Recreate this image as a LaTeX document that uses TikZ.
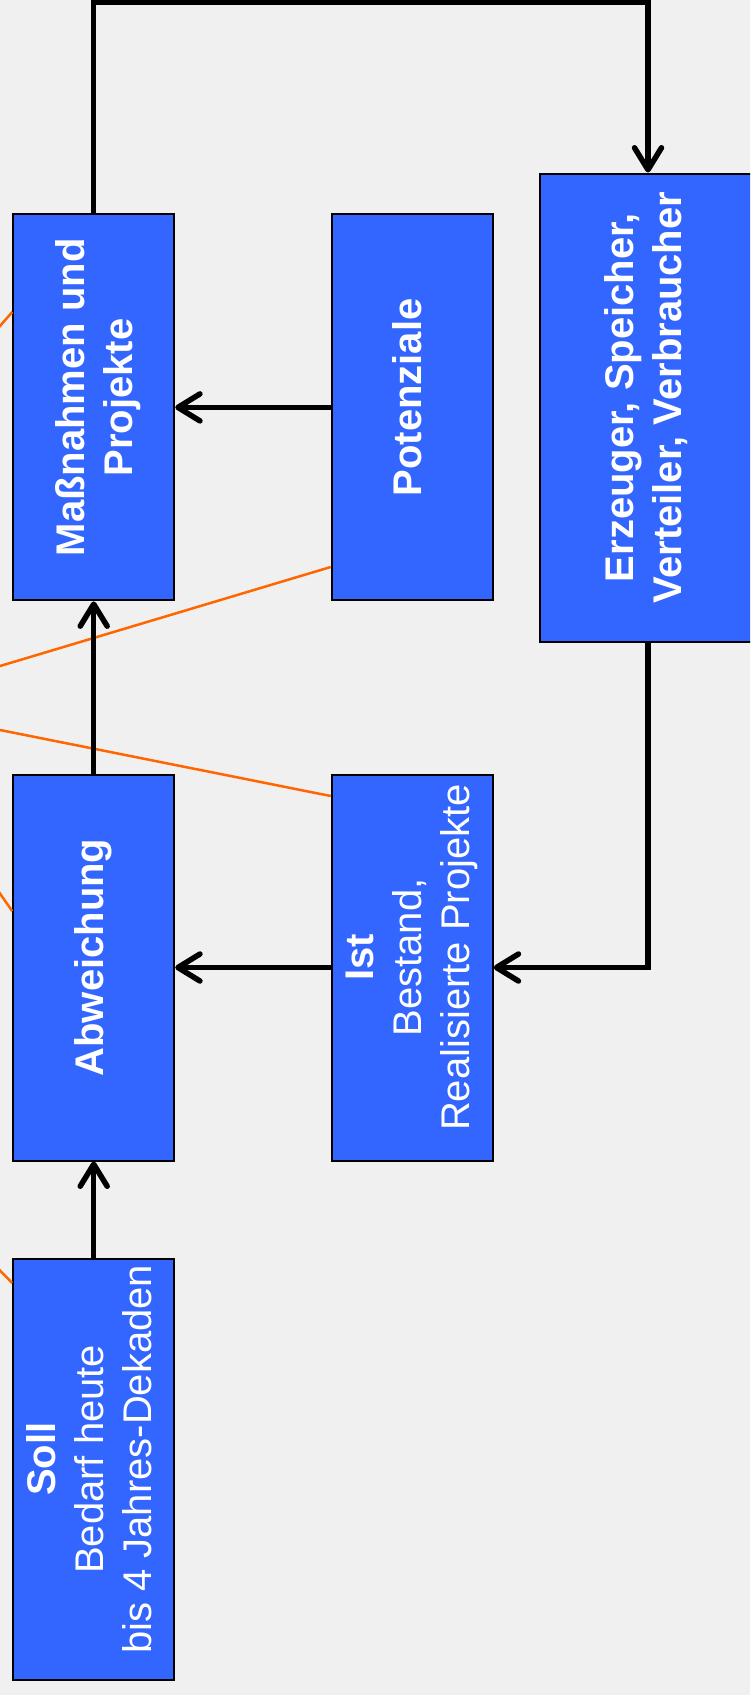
\documentclass[tikz,border=0pt]{standalone}
\usepackage{fontspec}
\setmainfont{Liberation Sans}
\usepackage{graphicx}
\usetikzlibrary{arrows.meta}
\definecolor{boxblue}{HTML}{3366FF}
\definecolor{linkorange}{HTML}{FF6600}
\definecolor{bggray}{HTML}{F0F0F0}
\newcommand{\vtext}[1]{\rotatebox{90}{\hspace*{20pt}\begin{tabular}{@{}c@{}}#1\end{tabular}}}
\tikzset{
         block/.style=
          {
           rectangle,draw=black,line width=2pt,fill=boxblue,text=white,
           inner sep=0pt,minimum width=161pt,minimum height=386pt,
           font=\fontsize{40}{48}\selectfont
          },
         flow/.style={line width=5.5pt,-{Straight Barb[length=22pt,width=27pt,round]}},
         link/.style={draw=linkorange,line width=2.5pt}
        }
\begin{document}
\begin{tikzpicture}[x=1pt,y=-1pt]
%background
\fill[bggray](0,0)rectangle(750,1695);
\useasboundingbox(0,0)rectangle(750,1695);
\clip(0,0)rectangle(750,1695);
%boxes
\node[block](mass)at(93.7,407.4){\hspace*{10pt}\vtext{\textbf{Maßnahmen und}\\\textbf{Projekte}}};
\node[block](pot)at(412.2,407.4){\vtext{\textbf{Potenziale}}};
\node[block,minimum width=216pt,minimum height=468pt](erz)at(648,407.5){\vtext{\textbf{Erzeuger, Speicher,}\\\textbf{Verteiler, Verbraucher}}\hspace{19pt}};
\node[block](abw)at(93.7,967.5){\vtext{\textbf{Abweichung}}};
\node[block](ist)at(412.2,967.5){\vtext{\textbf{Ist}\\Bestand,\\Realisierte Projekte}};
\node[block,minimum height=421pt](soll)at(93.7,1469.3){\vtext{\textbf{Soll}\\Bedarf heute\\bis 4 Jahres-Dekaden}\hspace{8pt}};
%orange links leaving the picture
\coordinate(m1)at(-20,349);
\coordinate(p1)at(-20,672);
\coordinate(i1)at(-20,726);
\coordinate(a1)at(-20,865);
\coordinate(s1)at(-20,1250);
\draw[link](mass.west|-0,312)--(m1);
\draw[link](pot.west|-0,567)--(p1);
\draw[link](ist.west|-0,796)--(i1);
\draw[link](abw.west|-0,911)--(a1);
\draw[link](soll.west|-0,1283)--(s1);
%arrows
\coordinate(top)at(93.7,2);
\draw[flow](mass.north)--(top)-|(erz.north);
\draw[flow](erz.south)|-(ist.east);
\draw[flow](pot.west)--(mass.east);
\draw[flow](ist.west)--(abw.east);
\draw[flow](abw.north)--(mass.south);
\draw[flow](soll.north)--(abw.south);
\end{tikzpicture}
\end{document}
